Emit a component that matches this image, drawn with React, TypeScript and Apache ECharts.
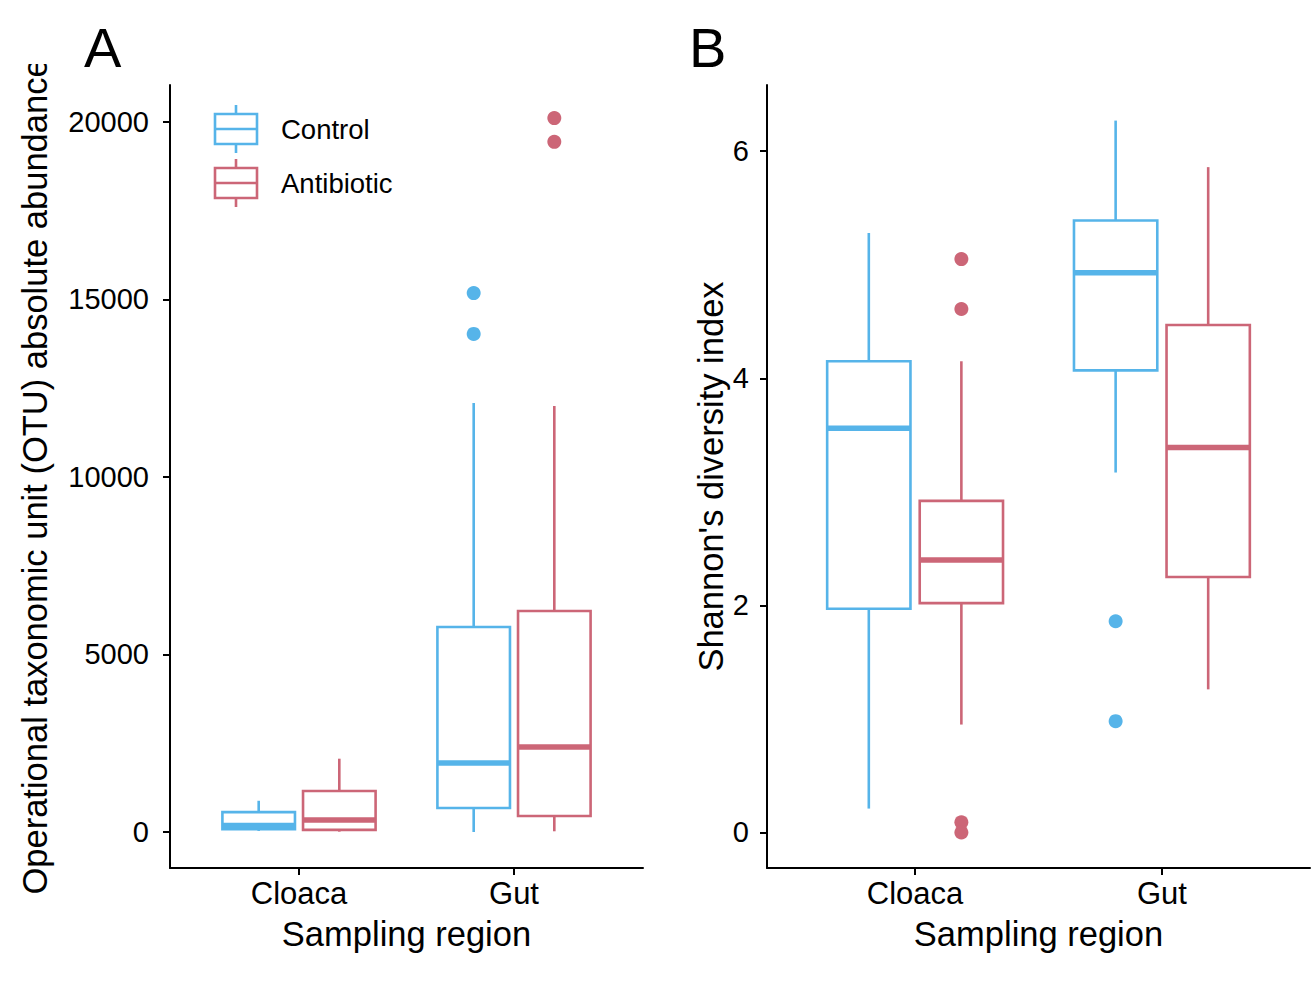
import React, { useEffect, useRef } from "react";
import * as echarts from "echarts";

const categories = ["Cloaca", "Gut"];
const groups = ["Control", "Antibiotic"];
const colors = ["#56B4E9", "#CC6677"];

// box stats per category: [lower whisker, q1, median, q3, upper whisker]
const otuControl = [
  [30, 80, 180, 560, 880],
  [0, 676, 1944, 5775, 12085],
];
const otuAntibiotic = [
  [10, 60, 340, 1155, 2065],
  [20, 450, 2394, 6225, 12000],
];
const otuControlOutliers = [[], [14030, 15180]];
const otuAntibioticOutliers = [[], [19440, 20110]];

const shannonControl = [
  [0.21, 1.97, 3.56, 4.15, 5.28],
  [3.17, 4.07, 4.93, 5.39, 6.27],
];
const shannonAntibiotic = [
  [0.95, 2.02, 2.4, 2.92, 4.15],
  [1.26, 2.25, 3.39, 4.47, 5.86],
];
const shannonControlOutliers = [[], [1.86, 0.98]];
const shannonAntibioticOutliers = [[5.05, 4.61, 0.09, 0.0], []];

const otuTicks = [0, 5000, 10000, 15000, 20000];
const shannonTicks = [0, 2, 4, 6];

const FONT = "'Liberation Sans', Arial, Helvetica, sans-serif";
const DODGE = 0.1875;
const BOX_WIDTH = 0.3375;

function boxData(stats: number[][], groupIdx: number) {
  const off = groupIdx === 0 ? -DODGE : DODGE;
  return stats.map((s, i) => [i + 1 + off, ...s]);
}
function outlierData(out: number[][], groupIdx: number) {
  const off = groupIdx === 0 ? -DODGE : DODGE;
  const res: number[][] = [];
  out.forEach((vals, i) => vals.forEach((v) => res.push([i + 1 + off, v])));
  return res;
}

function renderBox(color: string) {
  return (params: any, api: any) => {
    const x = api.value(0);
    const lo = api.coord([x, api.value(1)]);
    const q1 = api.coord([x, api.value(2)]);
    const med = api.coord([x, api.value(3)]);
    const q3 = api.coord([x, api.value(4)]);
    const hi = api.coord([x, api.value(5)]);
    const half = api.size([BOX_WIDTH, 0])[0] / 2;
    const lw = 2.6;
    return {
      type: "group",
      children: [
        { type: "line", shape: { x1: hi[0], y1: hi[1], x2: q3[0], y2: q3[1] }, style: { stroke: color, lineWidth: lw } },
        { type: "line", shape: { x1: q1[0], y1: q1[1], x2: lo[0], y2: lo[1] }, style: { stroke: color, lineWidth: lw } },
        {
          type: "rect",
          shape: { x: q3[0] - half, y: q3[1], width: 2 * half, height: q1[1] - q3[1] },
          style: { fill: "#ffffff", stroke: color, lineWidth: lw },
        },
        {
          type: "line",
          shape: { x1: med[0] - half, y1: med[1], x2: med[0] + half, y2: med[1] },
          style: { stroke: color, lineWidth: 5.5 },
        },
      ],
    };
  };
}

function xAxisCfg(gridIndex: number) {
  return {
    type: "value",
    gridIndex,
    min: 0.4,
    max: 2.6,
    name: "Sampling region",
    nameLocation: "middle",
    nameGap: 48,
    nameTextStyle: { fontSize: 34.5, color: "#000", fontFamily: FONT },
    axisLine: { show: true, onZero: false, lineStyle: { color: "#000", width: 2 } },
    axisTick: { show: true, length: 7, customValues: [1, 2], lineStyle: { color: "#000", width: 2 } },
    axisLabel: {
      show: true,
      customValues: [1, 2],
      formatter: (v: number) => categories[Math.round(v) - 1] ?? "",
      fontSize: 31,
      color: "#000",
      fontFamily: FONT,
      margin: 10,
    },
    splitLine: { show: false },
  };
}

function yAxisCfg(gridIndex: number, min: number, max: number, ticks: number[], name: string, nameGap: number, margin: number) {
  return {
    type: "value",
    gridIndex,
    min,
    max,
    name,
    nameLocation: "middle",
    nameGap,
    nameTextStyle: { fontSize: 34.5, color: "#000", fontFamily: FONT },
    axisLine: { show: true, onZero: false, lineStyle: { color: "#000", width: 2 } },
    axisTick: { show: true, length: 7, customValues: ticks, lineStyle: { color: "#000", width: 2 } },
    axisLabel: {
      show: true,
      customValues: ticks,
      formatter: (v: number) => String(v),
      fontSize: 29,
      color: "#000",
      fontFamily: FONT,
      margin,
    },
    splitLine: { show: false },
  };
}

function legendKey(y: number, color: string, label: string) {
  return [
    { type: "line", shape: { x1: 236, y1: y - 24, x2: 236, y2: y - 15 }, style: { stroke: color, lineWidth: 2.6 } },
    { type: "line", shape: { x1: 236, y1: y + 15, x2: 236, y2: y + 24 }, style: { stroke: color, lineWidth: 2.6 } },
    { type: "rect", shape: { x: 215, y: y - 15, width: 42, height: 30 }, style: { fill: "#fff", stroke: color, lineWidth: 2.6 } },
    { type: "line", shape: { x1: 215, y1: y, x2: 257, y2: y }, style: { stroke: color, lineWidth: 2.6 } },
    {
      type: "text",
      x: 281,
      y,
      style: { text: label, fontSize: 27.5, fill: "#000", fontFamily: FONT, textVerticalAlign: "middle", textAlign: "left" },
    },
  ];
}

export default function App() {
  const ref = useRef<HTMLDivElement>(null);
  useEffect(() => {
    if (!ref.current) return;
    const chart = echarts.init(ref.current, null, { renderer: "svg" });
    const series: any[] = [];
    const panels = [
      { grid: 0, stats: [otuControl, otuAntibiotic], outs: [otuControlOutliers, otuAntibioticOutliers] },
      { grid: 1, stats: [shannonControl, shannonAntibiotic], outs: [shannonControlOutliers, shannonAntibioticOutliers] },
    ];
    panels.forEach((p) => {
      [0, 1].forEach((g) => {
        series.push({
          type: "custom",
          name: groups[g],
          xAxisIndex: p.grid,
          yAxisIndex: p.grid,
          renderItem: renderBox(colors[g]),
          encode: { x: 0, y: [1, 2, 3, 4, 5] },
          data: boxData(p.stats[g], g),
          z: 2,
        });
        series.push({
          type: "scatter",
          name: groups[g],
          xAxisIndex: p.grid,
          yAxisIndex: p.grid,
          symbol: "circle",
          symbolSize: 14,
          itemStyle: { color: colors[g], opacity: 1 },
          data: outlierData(p.outs[g], g),
          z: 3,
        });
      });
    });

    chart.setOption({
      animation: false,
      backgroundColor: "#ffffff",
      textStyle: { fontFamily: FONT },
      grid: [
        { left: 170, top: 85, width: 473, height: 783 },
        { left: 767, top: 85, width: 543, height: 783 },
      ],
      xAxis: [xAxisCfg(0), xAxisCfg(1)],
      yAxis: [
        yAxisCfg(0, -1014, 21042, otuTicks, "Operational taxonomic unit (OTU) absolute abundance", 118, 21),
        yAxisCfg(1, -0.3135, 6.5835, shannonTicks, "Shannon's diversity index", 37, 18),
      ],
      series,
      graphic: [
        { type: "rect", shape: { x: 0, y: 0, width: 66, height: 64 }, style: { fill: "#fff" }, z: 100 },
        ...legendKey(129, colors[0], groups[0]),
        ...legendKey(183, colors[1], groups[1]),
        {
          type: "text",
          x: 84,
          y: 47,
          style: { text: "A", fontSize: 56, fill: "#000", fontFamily: FONT, textVerticalAlign: "middle" },
        },
        {
          type: "text",
          x: 689,
          y: 47,
          style: { text: "B", fontSize: 56, fill: "#000", fontFamily: FONT, textVerticalAlign: "middle" },
        },
      ],
    });
    return () => chart.dispose();
  }, []);
  return <div ref={ref} style={{ position: "absolute", left: 0, top: 0, width: 1316, height: 1000 }} />;
}
